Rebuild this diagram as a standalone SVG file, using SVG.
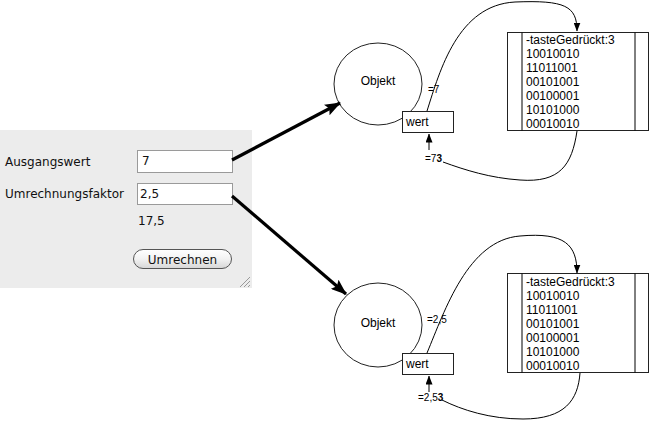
<svg xmlns="http://www.w3.org/2000/svg" width="651" height="421" viewBox="0 0 651 421">
<style>
.ui{font-family:"DejaVu Sans","Liberation Sans",sans-serif;font-size:12px;fill:#111}
.t{font-family:"Liberation Sans",Arial,sans-serif;font-size:12px;fill:#000}
.s{font-family:"Liberation Sans",Arial,sans-serif;font-size:10px;fill:#000}
.thin{fill:none;stroke:#000;stroke-width:1}
.thick{fill:none;stroke:#000;stroke-width:3.2}
.node{fill:#fff;stroke:#222;stroke-width:1}
.field{fill:#fff;stroke:#9a9a9a;stroke-width:1}
</style>
<defs>
<marker id="big" markerUnits="userSpaceOnUse" markerWidth="16" markerHeight="12" refX="15" refY="6" orient="auto">
<path d="M0,0 L16,6 L0,12 L3,6 Z" fill="#000"/>
</marker>
<marker id="sm" markerUnits="userSpaceOnUse" markerWidth="9" markerHeight="7" refX="8.5" refY="3.5" orient="auto">
<path d="M0,0 L9,3.5 L0,7 Z" fill="#000"/>
</marker>
<linearGradient id="btn" x1="0" y1="0" x2="0" y2="1">
<stop offset="0" stop-color="#ffffff"/>
<stop offset="0.5" stop-color="#f2f2f2"/>
<stop offset="1" stop-color="#d6d6d6"/>
</linearGradient>
</defs>

<g id="panel">
<rect x="0" y="130" width="252" height="158" fill="#ececec"/>
<text class="ui" x="5" y="166">Ausgangswert</text>
<text class="ui" x="5" y="198">Umrechnungsfaktor</text>
<rect class="field" x="137.5" y="150.5" width="95" height="22"/>
<text class="ui" x="142" y="165">7</text>
<rect class="field" x="137.5" y="183.5" width="95" height="21"/>
<text class="ui" x="140" y="198">2,5</text>
<text class="ui" x="138" y="225">17,5</text>
<rect x="133.5" y="249.5" width="98" height="19" rx="9.5" fill="url(#btn)" stroke="#555" stroke-width="1"/>
<text class="ui" x="182.5" y="264" text-anchor="middle">Umrechnen</text>
<g stroke="#999" stroke-width="1">
<line x1="240" y1="287" x2="250" y2="277"/>
<line x1="244" y1="287" x2="250" y2="281"/>
<line x1="248" y1="287" x2="250" y2="285"/>
</g>
</g>

<g id="objekt1">
<ellipse class="node" cx="378" cy="84" rx="44" ry="41"/>
<text class="t" x="378" y="85" text-anchor="middle">Objekt</text>
</g>
<g id="wert1">
<rect class="node" x="402.5" y="111.5" width="51" height="21"/>
<text class="t" x="406" y="126">wert</text>
</g>
<g id="speicher1">
<rect class="node" x="507.5" y="32.5" width="141" height="98"/>
<line class="thin" x1="522" y1="32.5" x2="522" y2="130.5" stroke="#222"/>
<line class="thin" x1="635" y1="32.5" x2="635" y2="130.5" stroke="#222"/>
<text class="t" x="526" y="44">-tasteGedrückt:3</text>
<text class="t" x="526" y="58">10010010</text>
<text class="t" x="526" y="72">11011001</text>
<text class="t" x="526" y="86">00101001</text>
<text class="t" x="526" y="100">00100001</text>
<text class="t" x="526" y="114">10101000</text>
<text class="t" x="526" y="128">00010010</text>
</g>

<g id="objekt2">
<ellipse class="node" cx="378" cy="325" rx="44" ry="42"/>
<text class="t" x="378" y="327" text-anchor="middle">Objekt</text>
</g>
<g id="wert2">
<rect class="node" x="402.5" y="353.5" width="51" height="21"/>
<text class="t" x="406" y="368">wert</text>
</g>
<g id="speicher2">
<rect class="node" x="507.5" y="273.5" width="141" height="99"/>
<line class="thin" x1="522" y1="273.5" x2="522" y2="372.5" stroke="#222"/>
<line class="thin" x1="635" y1="273.5" x2="635" y2="372.5" stroke="#222"/>
<text class="t" x="526" y="286">-tasteGedrückt:3</text>
<text class="t" x="526" y="300">10010010</text>
<text class="t" x="526" y="314">11011001</text>
<text class="t" x="526" y="328">00101001</text>
<text class="t" x="526" y="342">00100001</text>
<text class="t" x="526" y="356">10101000</text>
<text class="t" x="526" y="370">00010010</text>
</g>

<g id="connectors">
<line class="thick" x1="232" y1="160" x2="340" y2="103" marker-end="url(#big)"/>
<line class="thick" x1="232" y1="196" x2="346" y2="294" marker-end="url(#big)"/>
<path class="thin" d="M427,111 C440,70 458,5 515,2 C565,0 577,6 577,31" marker-end="url(#sm)"/>
<path class="thin" d="M577,131 C572,165 560,183 520,180 C490,178 465,170 443,162"/>
<line class="thin" x1="429" y1="150" x2="429" y2="134" marker-end="url(#sm)"/>
<path class="thin" d="M427,353 C445,310 468,240 520,236 C565,232 577,245 577,273" marker-end="url(#sm)"/>
<path class="thin" d="M580,373 C578,400 565,419 523,419 C490,419 462,410 442,400"/>
<line class="thin" x1="429" y1="392" x2="429" y2="376" marker-end="url(#sm)"/>
<text class="s" x="428" y="93">=7</text>
<text class="s" x="425" y="162">=7<tspan font-weight="bold">3</tspan></text>
<text class="s" x="427" y="323">=2,5</text>
<text class="s" x="418" y="401">=2,5<tspan font-weight="bold">3</tspan></text>
</g>
</svg>
